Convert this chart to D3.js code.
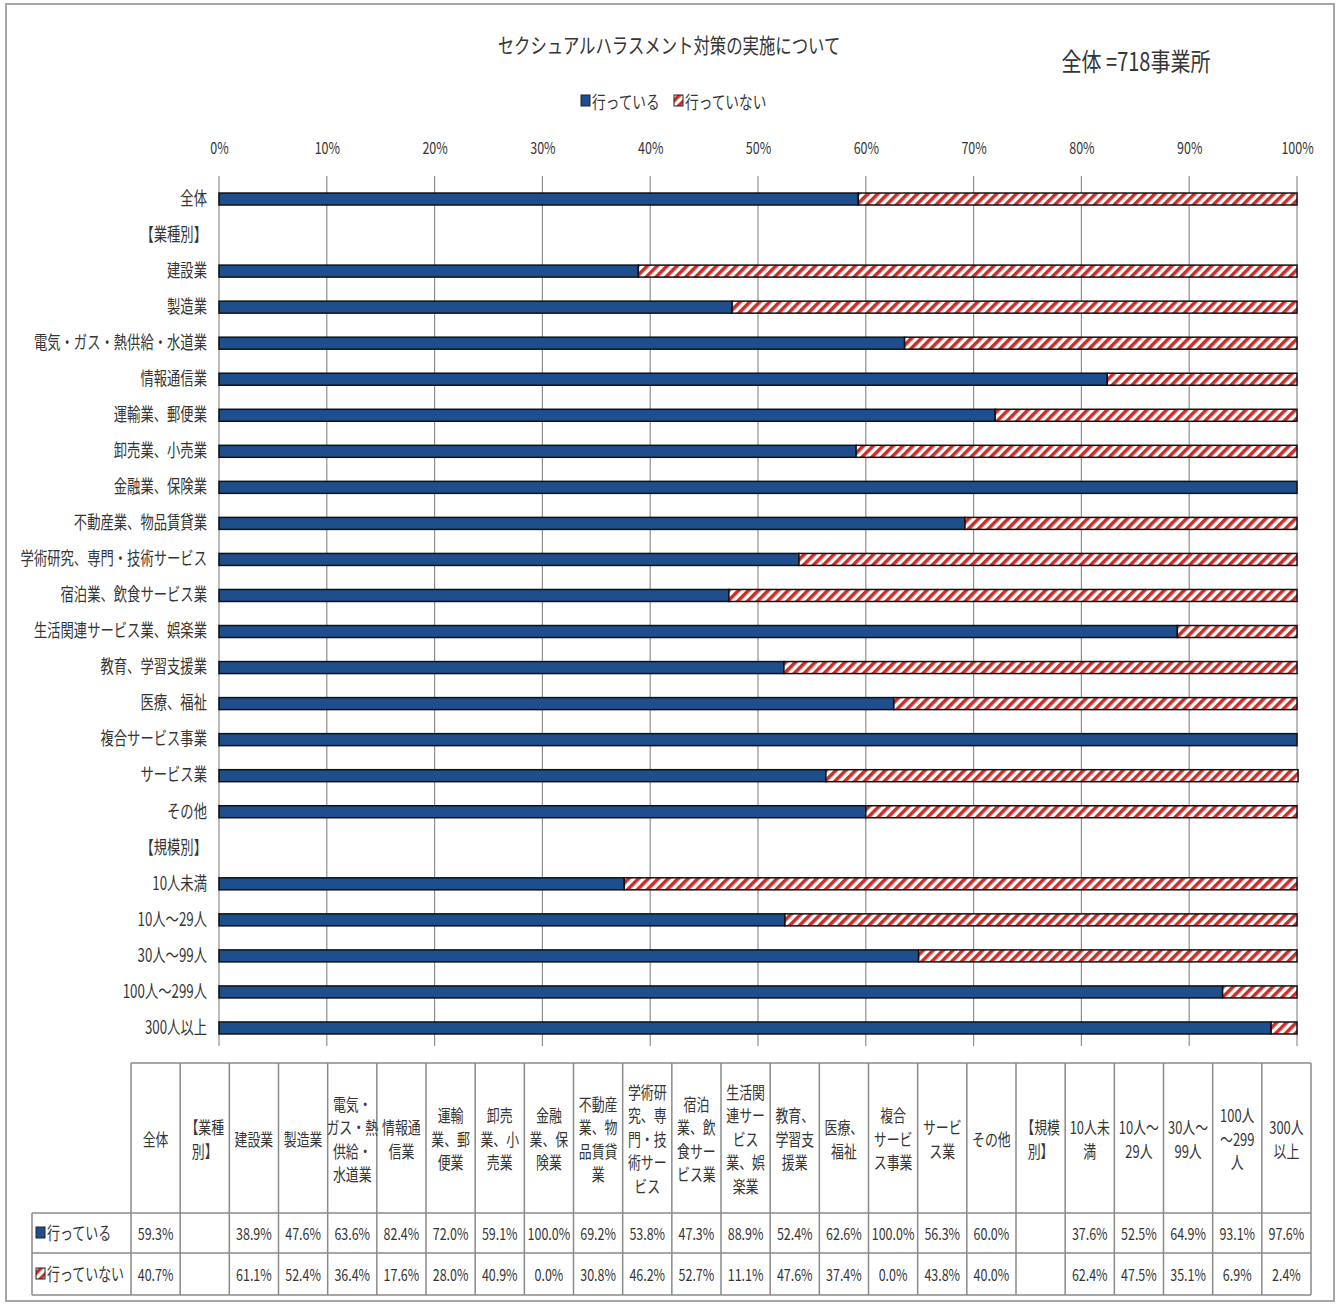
<!DOCTYPE html>
<html lang="ja">
<head>
<meta charset="utf-8">
<script src="https://cdn.jsdelivr.net/npm/d3@7"></script>
<style>
  html, body { margin: 0; padding: 0; background: #fff; }
  svg text { font-family: "Noto Sans CJK JP", "Noto Sans", sans-serif; fill: #353535; }
</style>
</head>
<body>
<svg id="chart" width="1343" height="1307"></svg>
<script>
// Categories (row order top to bottom; bracketed rows are group headings)
const categories = [
  "全体", "【業種別】", "建設業", "製造業", "電気・ガス・熱供給・水道業", "情報通信業",
  "運輸業、郵便業", "卸売業、小売業", "金融業、保険業", "不動産業、物品賃貸業",
  "学術研究、専門・技術サービス", "宿泊業、飲食サービス業", "生活関連サービス業、娯楽業",
  "教育、学習支援業", "医療、福祉", "複合サービス事業", "サービス業", "その他",
  "【規模別】", "10人未満", "10人～29人", "30人～99人", "100人～299人", "300人以上"
];

// Share of establishments taking measures (%)
const doneValues = [
  59.3, null, 38.9, 47.6, 63.6, 82.4, 72.0, 59.1, 100.0, 69.2, 53.8, 47.3, 88.9,
  52.4, 62.6, 100.0, 56.3, 60.0, null, 37.6, 52.5, 64.9, 93.1, 97.6
];

// Share of establishments not taking measures (%)
const notDoneValues = [
  40.7, null, 61.1, 52.4, 36.4, 17.6, 28.0, 40.9, 0.0, 30.8, 46.2, 52.7, 11.1,
  47.6, 37.4, 0.0, 43.8, 40.0, null, 62.4, 47.5, 35.1, 6.9, 2.4
];

const seriesNames = ["行っている", "行っていない"];
const xTicks = [0, 10, 20, 30, 40, 50, 60, 70, 80, 90, 100];

// Wrapped column headings for the data table ("|" marks a line break)
const tableHeaders = [
  "全体", "【業種|別】", "建設業", "製造業", "電気・|ガス・熱|供給・|水道業", "情報通|信業",
  "運輸|業、郵|便業", "卸売|業、小|売業", "金融|業、保|険業", "不動産|業、物|品賃貸|業",
  "学術研|究、専|門・技|術サー|ビス", "宿泊|業、飲|食サー|ビス業", "生活関|連サー|ビス|業、娯|楽業",
  "教育、|学習支|援業", "医療、|福祉", "複合|サービ|ス事業", "サービ|ス業", "その他",
  "【規模|別】", "10人未|満", "10人～|29人", "30人～|99人", "100人|～299|人", "300人|以上"
];

const title = "セクシュアルハラスメント対策の実施について";
const totalNote = "全体 =718事業所";

const BLUE = "#1f4e8c";
const RED = "#c8302c";
const TEXT = "#353535";

const svg = d3.select("#chart");

// Outer chart frame
svg.append("rect")
  .attr("x", 6).attr("y", 4).attr("width", 1328).attr("height", 1297)
  .attr("fill", "#fff").attr("stroke", "#a6a6a6").attr("stroke-width", 2);

// Diagonal red/white hatch used for "行っていない"
const defs = svg.append("defs");
const pat = defs.append("pattern")
  .attr("id", "hatch")
  .attr("patternUnits", "userSpaceOnUse")
  .attr("width", 7).attr("height", 7)
  .attr("patternTransform", "rotate(45)");
pat.append("rect").attr("width", 7).attr("height", 7).attr("fill", "#fff");
pat.append("rect").attr("width", 3.6).attr("height", 7).attr("fill", RED);

// Horizontally condensed text helper
function ctext(parent, x, y, str, size, anchor, sx, weight) {
  return parent.append("text")
    .attr("transform", `translate(${x},${y}) scale(${sx},1)`)
    .attr("text-anchor", anchor || "middle")
    .attr("dominant-baseline", "central")
    .style("font-size", size + "px")
    .style("font-weight", weight || "normal")
    .text(str);
}

// Title and total count
ctext(svg, 669, 44, title, 21, "middle", 0.78);
ctext(svg, 1136, 61, totalNote, 25, "middle", 0.8);

// Legend
const legend = svg.append("g");
legend.append("rect").attr("x", 581).attr("y", 95).attr("width", 9).attr("height", 11)
  .attr("fill", BLUE).attr("stroke", "#222").attr("stroke-width", 1);
ctext(legend, 592, 101, seriesNames[0], 18, "start", 0.76);
legend.append("rect").attr("x", 674).attr("y", 95).attr("width", 9).attr("height", 11)
  .attr("fill", "url(#hatch)").attr("stroke", "#222").attr("stroke-width", 1);
ctext(legend, 685, 101, seriesNames[1], 18, "start", 0.76);

// Scales
const x = d3.scaleLinear().domain([0, 100]).range([219, 1297]);
const y = d3.scaleBand().domain(categories).range([181, 1046]);
const barH = 12;

// Vertical gridlines
svg.append("g").selectAll("line").data(xTicks).join("line")
  .attr("x1", d => x(d)).attr("x2", d => x(d))
  .attr("y1", 176).attr("y2", 1046)
  .attr("stroke", "#8f8f8f").attr("stroke-width", 1.2);

// Percentage axis along the top
const xAxis = svg.append("g")
  .attr("transform", "translate(0,160)")
  .call(d3.axisTop(x).tickValues(xTicks).tickFormat(d => d + "%").tickSize(0).tickPadding(0));
xAxis.select(".domain").remove();
xAxis.selectAll("text")
  .attr("y", -6)
  .attr("transform", "scale(0.78,1)")
  .style("font-size", "16px")
  .style("fill", TEXT);

// Category axis
const ySx = 0.74;
const yAxis = svg.append("g")
  .attr("transform", `translate(${x(0)},0)`)
  .call(d3.axisLeft(y).tickSize(0).tickPadding(0));
yAxis.select(".domain").remove();
yAxis.selectAll("text")
  .attr("x", -12 / ySx)
  .attr("transform", `scale(${ySx},1)`)
  .style("font-size", "18px")
  .style("fill", TEXT);

// Stacked bars
const rows = categories.map((c, i) => ({ c, done: doneValues[i], not: notDoneValues[i] }))
  .filter(d => d.done !== null);

const bars = svg.append("g");
bars.selectAll("rect.done").data(rows).join("rect")
  .attr("class", "done")
  .attr("x", x(0))
  .attr("y", d => y(d.c) + (y.bandwidth() - barH) / 2)
  .attr("width", d => x(d.done) - x(0))
  .attr("height", barH)
  .attr("fill", BLUE).attr("stroke", "#111").attr("stroke-width", 1.5);
bars.selectAll("rect.not").data(rows.filter(d => d.not > 0)).join("rect")
  .attr("class", "not")
  .attr("x", d => x(d.done))
  .attr("y", d => y(d.c) + (y.bandwidth() - barH) / 2)
  .attr("width", d => x(d.done + d.not) - x(d.done))
  .attr("height", barH)
  .attr("fill", "url(#hatch)").attr("stroke", "#111").attr("stroke-width", 1.5);

// Data table under the plot
const tbl = svg.append("g");
const col = d3.scaleBand().domain(categories).range([131, 1311]);
const tTop = 1063, tHead = 1213, tRow1 = 1253, tRow2 = 1295, tLeft = 32;
const gridCol = "#8a8a8a";

function hline(x1, x2, yy) {
  tbl.append("line").attr("x1", x1).attr("x2", x2).attr("y1", yy).attr("y2", yy)
    .attr("stroke", gridCol).attr("stroke-width", 1.5);
}
function vline(xx, y1, y2) {
  tbl.append("line").attr("x1", xx).attr("x2", xx).attr("y1", y1).attr("y2", y2)
    .attr("stroke", gridCol).attr("stroke-width", 1.5);
}
hline(col.range()[0], col.range()[1], tTop);
hline(tLeft, col.range()[1], tHead);
hline(tLeft, col.range()[1], tRow1);
hline(tLeft, col.range()[1], tRow2);
vline(tLeft, tHead, tRow2);
categories.forEach(c => vline(col(c), tTop, tRow2));
vline(col.range()[1], tTop, tRow2);

// Column headings
const lh = 23.5;
tableHeaders.forEach((h, i) => {
  const lines = h.split("|");
  const cx = col(categories[i]) + col.bandwidth() / 2;
  const cy = (tTop + tHead) / 2;
  lines.forEach((ln, j) => {
    ctext(tbl, cx, cy + (j - (lines.length - 1) / 2) * lh, ln, 17, "middle", 0.76);
  });
});

// Row keys and labels
tbl.append("rect").attr("x", 36).attr("y", (tHead + tRow1) / 2 - 6).attr("width", 9).attr("height", 11)
  .attr("fill", BLUE).attr("stroke", "#222").attr("stroke-width", 1);
ctext(tbl, 47, (tHead + tRow1) / 2, seriesNames[0], 18, "start", 0.72);
tbl.append("rect").attr("x", 36).attr("y", (tRow1 + tRow2) / 2 - 6).attr("width", 9).attr("height", 11)
  .attr("fill", "url(#hatch)").attr("stroke", "#222").attr("stroke-width", 1);
ctext(tbl, 47, (tRow1 + tRow2) / 2, seriesNames[1], 18, "start", 0.72);

// Values
categories.forEach((c, i) => {
  const cx = col(c) + col.bandwidth() / 2;
  if (doneValues[i] !== null)
    ctext(tbl, cx, (tHead + tRow1) / 2, doneValues[i].toFixed(1) + "%", 16, "middle", 0.78);
  if (notDoneValues[i] !== null)
    ctext(tbl, cx, (tRow1 + tRow2) / 2, notDoneValues[i].toFixed(1) + "%", 16, "middle", 0.78);
});
</script>
</body>
</html>
